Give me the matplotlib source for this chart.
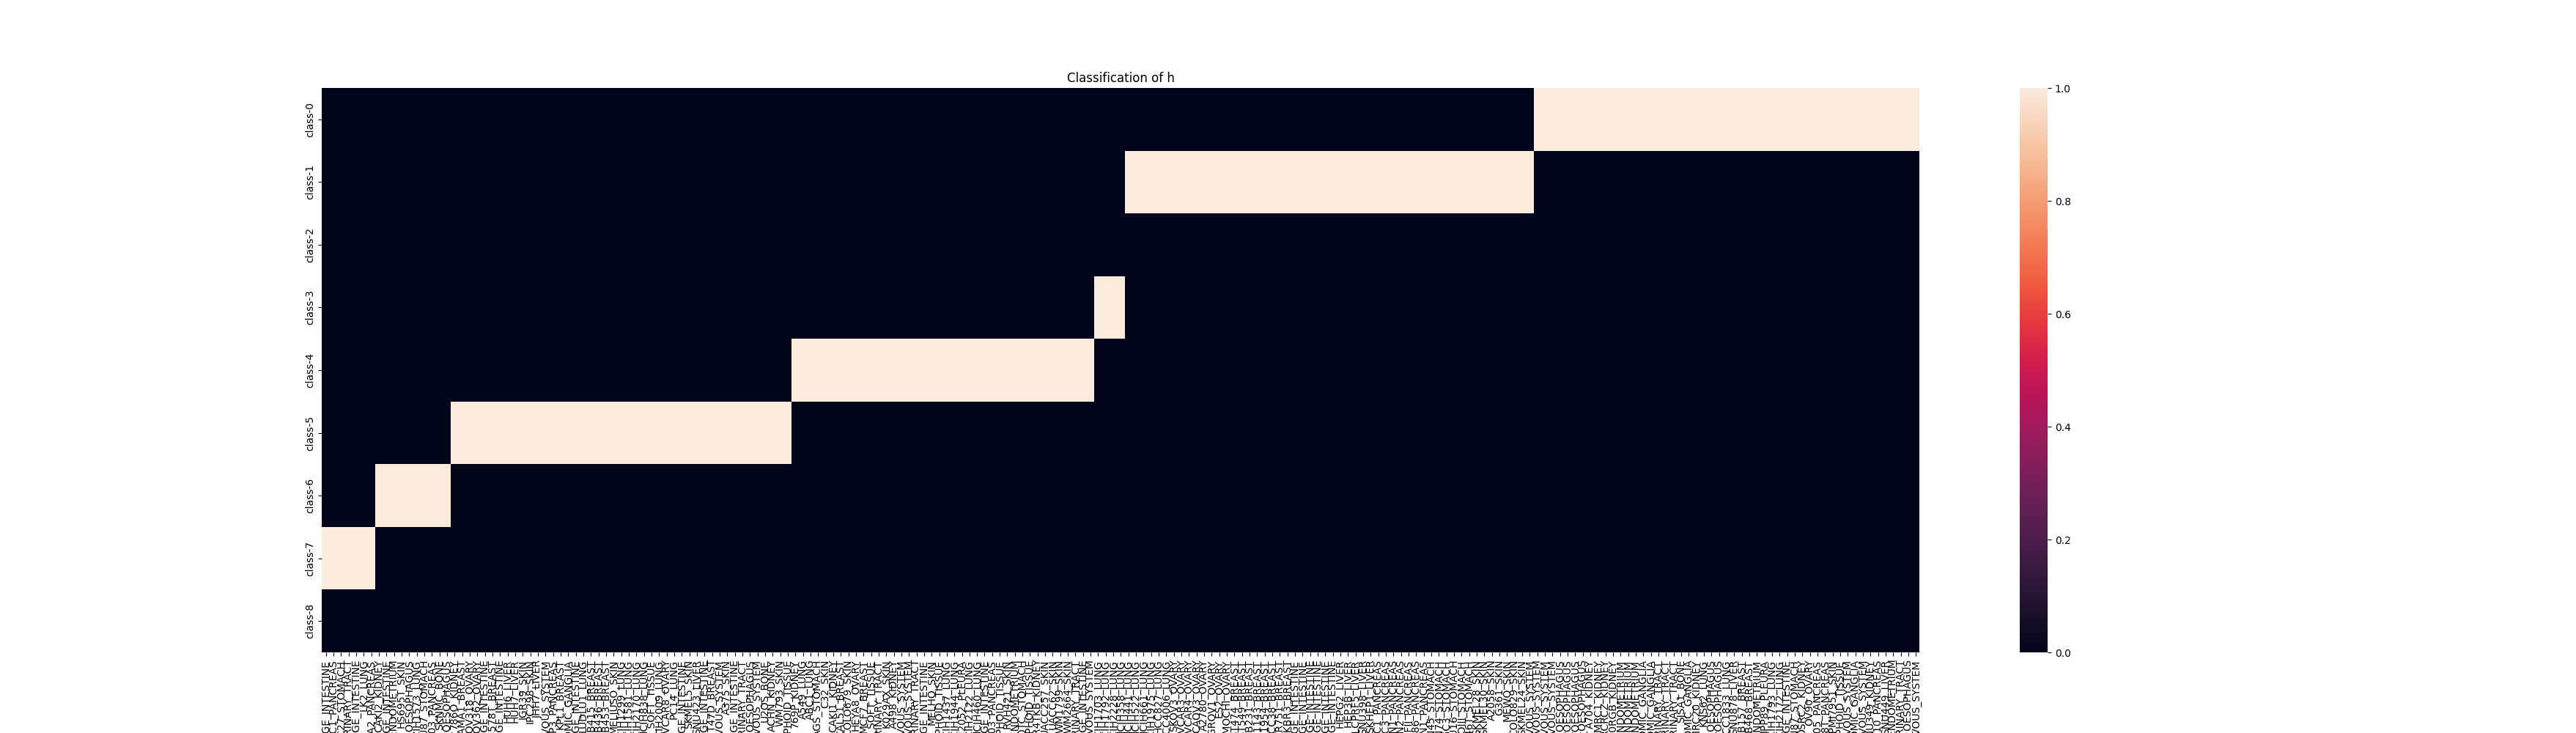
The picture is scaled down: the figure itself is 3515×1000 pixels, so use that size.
import numpy as np
import matplotlib
matplotlib.use("Agg")
import matplotlib.pyplot as plt
import seaborn as sns

classes = ["class-%d" % i for i in range(9)]

# Column blocks: which class each consecutive group of cell lines belongs to
block_classes = [7, 6, 5, 4, 3, 1, 0]
block_sizes = [7, 10, 45, 40, 4, 54, 51]

cell_lines = [
    # 0-43
    "HCT116_LARGE_INTESTINE", "PANC1_PANCREAS", "HGC27_STOMACH", "T24_URINARY_TRACT",
    "SW620_LARGE_INTESTINE", "LK2_LUNG", "MIAPACA2_PANCREAS", "CAKI2_KIDNEY",
    "LOVO_LARGE_INTESTINE", "AN3CA_ENDOMETRIUM", "HS695T_SKIN", "KYSE30_OESOPHAGUS",
    "NCIH1573_LUNG", "SNU87_STOMACH", "PANC0403_PANCREAS", "SKNMC_BONE",
    "KYSE150_OESOPHAGUS", "786O_KIDNEY", "CAMA1_BREAST", "COV318_OVARY",
    "COV362_OVARY", "SW1116_LARGE_INTESTINE", "HS578T_BREAST", "SW948_LARGE_INTESTINE",
    "HUH6_LIVER", "HUH7_LIVER", "IGR39_SKIN", "IPC298_SKIN", "JHH7_LIVER",
    "KNS42_CENTRAL_NERVOUS_SYSTEM", "KP3_PANCREAS", "KPL1_BREAST", "KELLY_AUTONOMIC_GANGLIA",
    "LS180_LARGE_INTESTINE", "LUDLU1_LUNG", "MDAMB415_BREAST", "MDAMB436_BREAST",
    "MDAMB453_BREAST", "MELJUSO_SKIN", "NCIH1299_LUNG", "NCIH1581_LUNG", "NCIH2170_LUNG",
    "NCIH838_LUNG", "RH30_SOFT_TISSUE",
    # 44-53
    "NCIH2009_LUNG", "OVCAR8_OVARY", "PC14_LUNG", "RKO_LARGE_INTESTINE", "SKMEL5_SKIN",
    "SNU423_LIVER", "SW1417_LARGE_INTESTINE", "T47D_BREAST",
    "U251MG_CENTRAL_NERVOUS_SYSTEM", "A375_SKIN",
    # 54-101
    "COLO205_LARGE_INTESTINE", "RT4_URINARY_TRACT", "KYSE410_OESOPHAGUS",
    "SF295_CENTRAL_NERVOUS_SYSTEM", "U2OS_BONE", "ACHN_KIDNEY", "WM793_SKIN",
    "SUDHL4_HAEMATOPOIETIC_AND_LYMPHOID_TISSUE", "769P_KIDNEY", "A549_LUNG", "ABC1_LUNG",
    "AGS_STOMACH", "C32_SKIN", "CAKI1_KIDNEY", "CAL51_BREAST", "COLO679_SKIN",
    "HEYA8_OVARY", "MCF7_BREAST", "HT1080_SOFT_TISSUE", "5637_URINARY_TRACT",
    "K029AX_SKIN", "A498_KIDNEY", "LN229_CENTRAL_NERVOUS_SYSTEM",
    "SF268_CENTRAL_NERVOUS_SYSTEM", "J82_URINARY_TRACT", "HT55_LARGE_INTESTINE",
    "MELHO_SKIN", "KMS11_HAEMATOPOIETIC_AND_LYMPHOID_TISSUE", "NCIH1437_LUNG",
    "NCIH1944_LUNG", "NCIH2052_PLEURA", "NCIH2122_LUNG", "NCIH460_LUNG",
    "NCIH508_LARGE_INTESTINE", "PANC0203_PANCREAS",
    "RPMI8226_HAEMATOPOIETIC_AND_LYMPHOID_TISSUE", "RVH421_SKIN", "SNGM_ENDOMETRIUM",
    "SH10TC_STOMACH", "SUPT1_HAEMATOPOIETIC_AND_LYMPHOID_TISSUE", "TUHR4TKB_KIDNEY",
    "UACC257_SKIN", "UACC62_SKIN", "WM1799_SKIN", "WM2664_SKIN", "RT112_URINARY_TRACT",
    "SW837_LARGE_INTESTINE", "YKG1_CENTRAL_NERVOUS_SYSTEM",
    # 102-179
    "NCIH1703_LUNG", "NCIH1792_LUNG", "NCIH2228_LUNG", "NCIH358_LUNG", "NCIH441_LUNG",
    "NCIH522_LUNG", "NCIH661_LUNG", "NCIH1975_LUNG", "HCC827_LUNG", "HCC4006_LUNG",
    "SKOV3_OVARY", "OVCAR3_OVARY", "OVCAR4_OVARY", "CAOV3_OVARY", "A2780_OVARY",
    "IGROV1_OVARY", "ES2_OVARY", "KURAMOCHI_OVARY",
    "BT474_BREAST", "BT549_BREAST", "MDAMB231_BREAST", "HCC1143_BREAST", "HCC1954_BREAST",
    "HCC38_BREAST", "ZR751_BREAST", "SKBR3_BREAST",
    "DLD1_LARGE_INTESTINE", "HT115_LARGE_INTESTINE", "SW403_LARGE_INTESTINE",
    "SNUC1_LARGE_INTESTINE", "LS513_LARGE_INTESTINE", "GP2D_LARGE_INTESTINE",
    "HEPG2_LIVER", "HEP3B_LIVER", "PLCPRF5_LIVER", "SNU398_LIVER", "SKHEP1_LIVER",
    "ASPC1_PANCREAS", "BXPC3_PANCREAS", "CAPAN1_PANCREAS", "CAPAN2_PANCREAS",
    "HPAFII_PANCREAS", "SU8686_PANCREAS", "PSN1_PANCREAS",
    "MKN45_STOMACH", "MKN74_STOMACH", "NUGC3_STOMACH", "SNU16_STOMACH", "KATOIII_STOMACH",
    "HS746T_STOMACH",
    "SKMEL28_SKIN", "SKMEL30_SKIN", "A2058_SKIN", "G361_SKIN", "MEWO_SKIN", "COLO829_SKIN",
    "SKMEL24_SKIN",
    "U87MG_CENTRAL_NERVOUS_SYSTEM", "T98G_CENTRAL_NERVOUS_SYSTEM",
    "DBTRG05MG_CENTRAL_NERVOUS_SYSTEM", "SNB75_CENTRAL_NERVOUS_SYSTEM",
    "KYSE70_OESOPHAGUS", "KYSE180_OESOPHAGUS", "KYSE510_OESOPHAGUS", "TE1_OESOPHAGUS",
    "A704_KIDNEY", "KMRC1_KIDNEY", "VMRCRCZ_KIDNEY", "RCC10RGB_KIDNEY",
    "HEC1A_ENDOMETRIUM", "ISHIKAWAHERAKLIO02ER_ENDOMETRIUM", "MFE280_ENDOMETRIUM",
    "SKNAS_AUTONOMIC_GANGLIA", "SKNBE2_AUTONOMIC_GANGLIA",
    "HT1376_URINARY_TRACT", "SCABER_URINARY_TRACT", "UMUC3_URINARY_TRACT",
    "SJSA1_BONE",
    # 180-210
    "CHP212_AUTONOMIC_GANGLIA", "KMRC20_KIDNEY", "KNS62_LUNG", "OE33_OESOPHAGUS",
    "OE19_OESOPHAGUS", "HCC1833_LUNG", "SNU878_LIVER", "MDAMB157_BREAST",
    "MDAMB468_BREAST", "MFE296_ENDOMETRIUM", "MPP89_PLEURA", "NCIH1793_LUNG",
    "NCIH2172_LUNG", "SW48_LARGE_INTESTINE", "NCIN87_STOMACH", "OSRC2_KIDNEY",
    "OV90_OVARY", "PANC1005_PANCREAS", "PATU8988T_PANCREAS", "RPMI7951_SKIN",
    "DOHH2_HAEMATOPOIETIC_AND_LYMPHOID_TISSUE", "SF539_CENTRAL_NERVOUS_SYSTEM",
    "SHSY5Y_AUTONOMIC_GANGLIA", "SNB19_CENTRAL_NERVOUS_SYSTEM", "SNU349_KIDNEY",
    "SNU410_PANCREAS", "SNU449_LIVER", "JHUEM2_ENDOMETRIUM", "SW780_URINARY_TRACT",
    "TE9_OESOPHAGUS", "U118MG_CENTRAL_NERVOUS_SYSTEM",
]

n_cols = sum(block_sizes)
labels = cell_lines[:n_cols]
while len(labels) < n_cols:
    labels.append("CELL%d_LUNG" % len(labels))

col_class = []
for c, s in zip(block_classes, block_sizes):
    col_class += [c] * s

matrix = np.zeros((len(classes), n_cols))
for j, c in enumerate(col_class):
    matrix[c, j] = 1.0

fig, ax = plt.subplots(figsize=(35.16, 10), dpi=100)
sns.heatmap(matrix, ax=ax, xticklabels=labels, yticklabels=classes)
ax.set_title("Classification of h")
fig.savefig("out.png", dpi=100)
